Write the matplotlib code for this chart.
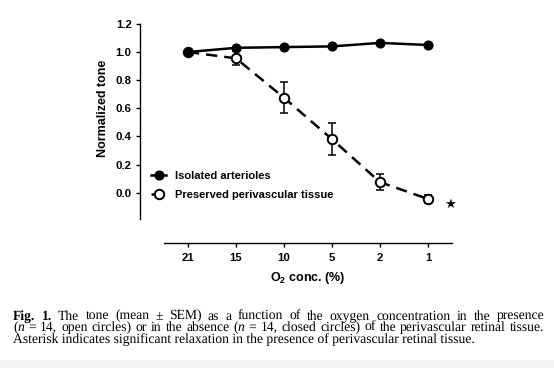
import matplotlib
matplotlib.use("Agg")
import matplotlib.pyplot as plt
from matplotlib.patches import Rectangle
from matplotlib.text import Text

# ---------------- data ----------------
o2_labels = ["21", "15", "10", "5", "2", "1"]
isolated = [1.00, 1.03, 1.035, 1.04, 1.065, 1.05]
isolated_sem = [0.0, 0.01, 0.01, 0.01, 0.01, 0.01]
preserved = [1.00, 0.955, 0.675, 0.38, 0.075, -0.045]
preserved_sem = [0.0, 0.05, 0.11, 0.115, 0.055, 0.03]
yticks = [0.0, 0.2, 0.4, 0.6, 0.8, 1.0, 1.2]
series_names = ["Isolated arterioles", "Preserved perivascular tissue"]

caption_lines = [
    [[("Fig.", "bold")], [("1.", "bold")], [("The", "r")], [("tone", "r")], [("(mean", "r")],
     [("\u00b1", "r")], [("SEM)", "r")], [("as", "r")], [("a", "r")], [("function", "r")],
     [("of", "r")], [("the", "r")], [("oxygen", "r")], [("concentration", "r")],
     [("in", "r")], [("the", "r")], [("presence", "r")]],
    [[("(", "r"), ("n", "it")], [("=", "r")], [("14,", "r")], [("open", "r")], [("circles)", "r")],
     [("or", "r")], [("in", "r")], [("the", "r")], [("absence", "r")], [("(", "r"), ("n", "it")],
     [("=", "r")], [("14,", "r")], [("closed", "r")], [("circles)", "r")], [("of", "r")],
     [("the", "r")], [("perivascular", "r")], [("retinal", "r")], [("tissue.", "r")]],
]
caption_last = "Asterisk indicates significant relaxation in the presence of perivascular retinal tissue."

# ---------------- figure ----------------
W, H = 554, 368
SANS = "Liberation Sans"
plt.rcParams["font.family"] = [SANS, "DejaVu Sans"]
plt.rcParams["font.weight"] = "bold"
plt.rcParams["mathtext.fontset"] = "custom"
plt.rcParams["mathtext.rm"] = "Liberation Sans:bold"
plt.rcParams["mathtext.bf"] = "Liberation Sans:bold"
fig = plt.figure(figsize=(W / 100, H / 100), dpi=100)
fig.patch.set_facecolor("white")

FS = 8.2

def px(x, y):
    return x / W, 1 - y / H

# main axes
x = list(range(len(o2_labels)))
ax = fig.add_axes([140 / W, 1 - 219.4 / H, 360 / W, 195.5 / H])
ax.set_xlim(-1, 6.5)
ax.set_ylim(-0.19, 1.2)
for s in ["top", "right", "bottom"]:
    ax.spines[s].set_visible(False)
ax.spines["left"].set_linewidth(1.0)
ax.set_xticks([])
ax.set_yticks(yticks)
ax.set_yticklabels([f"{v:.1f}" for v in yticks])
ax.tick_params(axis="y", direction="out", length=3, width=1.0, pad=3, labelsize=FS)
for t in ax.get_yticklabels():
    t.set_fontweight("bold")
ax.patch.set_alpha(0)

ax.errorbar(x, preserved, yerr=preserved_sem, fmt="none", ecolor="black",
            elinewidth=1.1, capsize=3, capthick=1.1, zorder=2)
ax.plot(x, preserved, color="black", lw=1.8, ls=(0, (4.5, 2.8)), marker="o",
        ms=6.8, mfc="white", mec="black", mew=1.4, zorder=3, label=series_names[1])
ax.plot(x, isolated, color="black", lw=1.8, ls="-", marker="o",
        ms=6.3, mfc="black", mec="black", zorder=4, label=series_names[0])

ax.annotate("\u2605", xy=(x[-1], preserved[-1]), xytext=(16, -4), textcoords="offset points",
            ha="center", va="center", fontsize=9.5, fontfamily="DejaVu Sans")

h, l = ax.get_legend_handles_labels()
leg = ax.legend([h[1], h[0]], [l[1], l[0]], loc="center left",
                bbox_to_anchor=(0.03, 0.175), frameon=False, handlelength=1.4,
                handletextpad=0.8, labelspacing=0.8, borderaxespad=0, borderpad=0,
                prop={"family": SANS, "weight": "bold", "size": 8})

fig.text(*px(103, 108), "Normalized tone", rotation=90, ha="center", va="center",
         fontweight="bold", fontsize=9)

# detached x axis
ax2 = fig.add_axes([164 / W, 1 - 243 / H, 288 / W, 0.001])
ax2.set_xlim(-0.5, 5.5)
for s in ["top", "right", "left"]:
    ax2.spines[s].set_visible(False)
ax2.spines["bottom"].set_linewidth(1.0)
ax2.set_yticks([])
ax2.set_xticks(x)
ax2.set_xticklabels(o2_labels)
ax2.tick_params(axis="x", direction="out", length=3, width=1.0, pad=4, labelsize=FS)
for t in ax2.get_xticklabels():
    t.set_fontweight("bold")
ax2.patch.set_alpha(0)

fig.text(*px(308, 278), r"$\mathbf{O_2}$ conc. (%)", ha="center", va="center",
         fontweight="bold", fontsize=9)

# bottom grey band
fig.patches.append(Rectangle((0, 0), 1, 8 / H, transform=fig.transFigure,
                             facecolor="#f3f3f3", edgecolor="none", zorder=0))

# ---------------- caption (justified) ----------------
NOHINT = {"text.hinting": "no_hinting"}


class CaptionText(Text):
    def draw(self, renderer):
        with plt.rc_context(NOHINT):
            return super().draw(renderer)


SERIF = "Liberation Serif"

def style_kw(st, size):
    kw = dict(fontfamily=SERIF, fontsize=size, fontweight="normal", fontstyle="normal")
    if st == "bold":
        kw["fontweight"] = "bold"
    if st == "it":
        kw["fontstyle"] = "italic"
    return kw

with plt.rc_context(NOHINT):
    renderer = fig.canvas.get_renderer()

    def measure(seg_text, st, size):
        t = fig.text(0, 0, seg_text, **style_kw(st, size))
        w = t.get_window_extent(renderer).width
        t.remove()
        return w

    def word_width(word, size):
        return sum(measure(s, st, size) for s, st in word)

    base = 8.0
    size = base * 461 / measure(caption_last, "r", base)

    x_left, x_right = 13, 544
    baselines = [319.5, 331, 342.5]
    placements = []
    for i, words in enumerate(caption_lines):
        widths = [word_width(w, size) for w in words]
        gap = (x_right - x_left - sum(widths)) / (len(words) - 1)
        cx = x_left
        for w, ww in zip(words, widths):
            sx = cx
            for s, st in w:
                placements.append((sx, baselines[i], s, st))
                sx += measure(s, st, size)
            cx += ww + gap
    placements.append((x_left, baselines[2], caption_last, "r"))

for sx, sy, s, st in placements:
    fig.add_artist(CaptionText(sx / W, 1 - sy / H, s, va="baseline", ha="left",
                               transform=fig.transFigure, **style_kw(st, size)))

fig.savefig("out.png", dpi=100, facecolor="white")
